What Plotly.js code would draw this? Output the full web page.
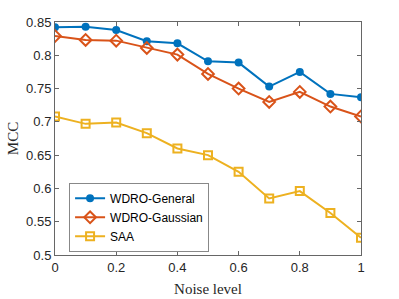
<!DOCTYPE html>
<html><head><meta charset="utf-8">
<script src="https://cdn.plot.ly/plotly-3.0.1.min.js"></script>
<style>html,body{margin:0;padding:0;background:#fff}#chart{width:399px;height:299px}</style>
</head><body><div id="chart"></div>
<script>
const noiseLevels = [0, 0.1, 0.2, 0.3, 0.4, 0.5, 0.6, 0.7, 0.8, 0.9, 1.0];
const wdroGeneral = [0.842, 0.843, 0.838, 0.821, 0.818, 0.791, 0.789, 0.753, 0.775, 0.742, 0.737];
const wdroGaussian = [0.829, 0.823, 0.822, 0.811, 0.801, 0.772, 0.750, 0.730, 0.745, 0.723, 0.708];
const saa = [0.708, 0.697, 0.699, 0.683, 0.660, 0.650, 0.625, 0.585, 0.596, 0.563, 0.526];
const seriesNames = ['WDRO-General', 'WDRO-Gaussian', 'SAA'];

const traces = [
  {x: noiseLevels, y: wdroGeneral, name: seriesNames[0], mode: 'lines+markers',
   line: {color: '#0072BD', width: 2}, marker: {symbol: 'circle', size: 8, color: '#0072BD'}},
  {x: noiseLevels, y: wdroGaussian, name: seriesNames[1], mode: 'lines+markers',
   line: {color: '#D95319', width: 2}, marker: {symbol: 'diamond-open', size: 9, color: '#D95319', line: {width: 2}}},
  {x: noiseLevels, y: saa, name: seriesNames[2], mode: 'lines+markers',
   line: {color: '#EDB120', width: 2}, marker: {symbol: 'square-open', size: 8, color: '#EDB120', line: {width: 2}}}
];

const axisCommon = {
  showgrid: false, zeroline: false, showline: true, linecolor: '#666', linewidth: 1,
  mirror: 'ticks', ticks: 'inside', ticklen: 4, tickcolor: '#666',
  tickfont: {family: 'Liberation Sans, Arial, sans-serif', size: 13, color: '#262626'}
};

const layout = {
  width: 399, height: 299,
  margin: {l: 55, r: 38, t: 22, b: 44},
  paper_bgcolor: '#fff', plot_bgcolor: '#fff',
  showlegend: true,
  xaxis: Object.assign({}, axisCommon, {
    range: [0, 1], tickvals: [0, 0.2, 0.4, 0.6, 0.8, 1], ticktext: ['0', '0.2', '0.4', '0.6', '0.8', '1'],
    title: {text: 'Noise level', font: {family: 'Liberation Serif, Times New Roman, serif', size: 15, color: '#262626'}, standoff: 9}
  }),
  yaxis: Object.assign({}, axisCommon, {
    range: [0.5, 0.85], tickvals: [0.5, 0.55, 0.6, 0.65, 0.7, 0.75, 0.8, 0.85],
    ticktext: ['0.5', '0.55', '0.6', '0.65', '0.7', '0.75', '0.8', '0.85'],
    title: {text: 'MCC', font: {family: 'Liberation Serif, Times New Roman, serif', size: 15, color: '#262626'}, standoff: 3}
  }),
  legend: {
    x: 0.046, y: 0.31, xanchor: 'left', yanchor: 'top',
    bgcolor: '#fff', bordercolor: '#888', borderwidth: 1,
    font: {family: 'Liberation Sans, Arial, sans-serif', size: 12, color: '#000'},
    tracegroupgap: 0, itemwidth: 30
  }
};

Plotly.newPlot('chart', traces, layout, {displayModeBar: false, staticPlot: true});
</script></body></html>
